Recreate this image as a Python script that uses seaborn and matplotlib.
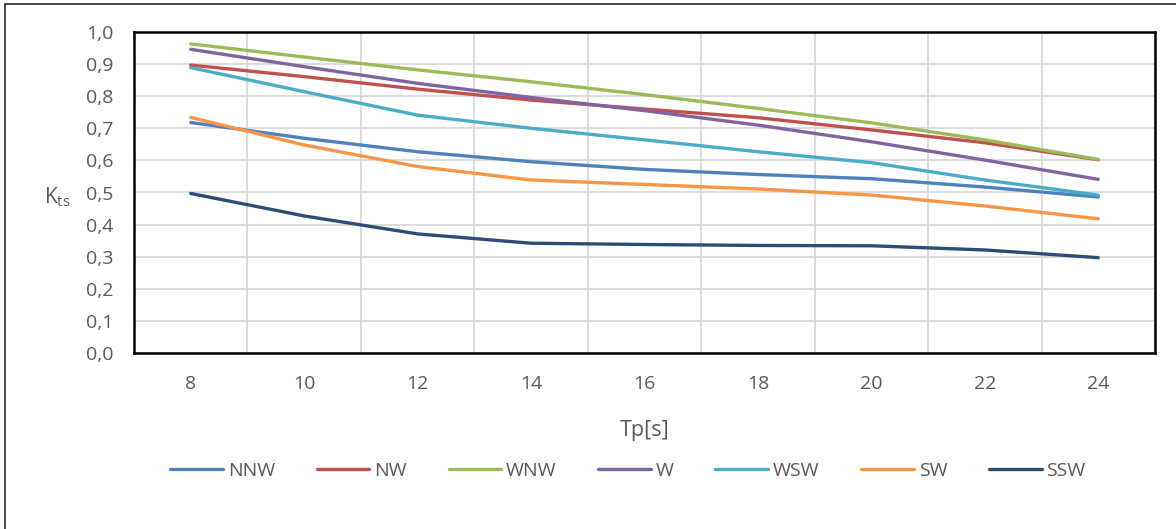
import pandas as pd
import matplotlib
matplotlib.use("Agg")
import matplotlib.pyplot as plt
import seaborn as sns
from matplotlib.patches import Rectangle
from matplotlib.ticker import FuncFormatter, MultipleLocator

# data
tp = [8, 10, 12, 14, 16, 18, 20, 22, 24]
nnw = [0.718, 0.669, 0.627, 0.596, 0.572, 0.556, 0.543, 0.517, 0.486]
nw = [0.897, 0.861, 0.822, 0.788, 0.760, 0.733, 0.695, 0.655, 0.602]
wnw = [0.963, 0.922, 0.882, 0.845, 0.805, 0.762, 0.717, 0.664, 0.603]
w = [0.946, 0.892, 0.840, 0.796, 0.755, 0.710, 0.658, 0.601, 0.541]
wsw = [0.889, 0.814, 0.741, 0.700, 0.664, 0.627, 0.593, 0.539, 0.492]
sw = [0.734, 0.648, 0.581, 0.539, 0.525, 0.511, 0.492, 0.458, 0.418]
ssw = [0.497, 0.427, 0.371, 0.342, 0.338, 0.335, 0.334, 0.321, 0.297]

series = ["NNW", "NW", "WNW", "W", "WSW", "SW", "SSW"]
colors = ["#4f81bd", "#c0504d", "#9bbb59", "#8064a2", "#4bacc6", "#f79646", "#2c4d75"]

df = pd.concat(
    [pd.DataFrame({"Tp": tp, "Kts": v, "dir": name})
     for name, v in zip(series, [nnw, nw, wnw, w, wsw, sw, ssw])],
    ignore_index=True,
)

sns.set_theme(style="white")
plt.rcParams["font.family"] = ["Open Sans", "DejaVu Sans"]
txt = "#595959"

fig = plt.figure(figsize=(11.76, 5.29), dpi=100)
ax = fig.add_axes([134 / 1176, 1 - 353 / 529, (1155 - 134) / 1176, (353 - 32) / 529])

sns.lineplot(data=df, x="Tp", y="Kts", hue="dir", hue_order=series,
             palette=colors, linewidth=2.4, ax=ax, legend=True)

ax.set_xlim(7, 25)
ax.set_ylim(0, 1.0)
ax.set_xticks(tp)
ax.xaxis.set_minor_locator(MultipleLocator(2, offset=1))
ax.yaxis.set_major_locator(MultipleLocator(0.1))
ax.yaxis.set_major_formatter(FuncFormatter(lambda v, p: f"{v:.1f}".replace(".", ",")))
ax.grid(False)
ax.grid(True, which="major", axis="y", color="#d9d9d9", linewidth=1.3)
ax.grid(True, which="minor", axis="x", color="#d9d9d9", linewidth=1.3)
ax.set_axisbelow(True)
ax.tick_params(axis="both", which="both", length=0, labelsize=14, labelcolor=txt)
ax.tick_params(axis="x", pad=16)
ax.tick_params(axis="y", pad=15)
for s in ax.spines.values():
    s.set_visible(True)
    s.set_color("black")
    s.set_linewidth(1.8)

ax.set_xlabel("Tp[s]", fontsize=15.5, color=txt)
ax.xaxis.set_label_coords((645 - 134) / 1021, -0.21)
ax.set_ylabel("K$_{\\mathregular{ts}}$", fontsize=15, color=txt, rotation=0, va="center")
ax.yaxis.set_label_coords(-(134 - 57) / 1021, (353 - 197) / 321)

handles, labels = ax.get_legend_handles_labels()
ax.legend(handles, labels, loc="center", bbox_to_anchor=(628 / 1176, 1 - 471 / 529),
          bbox_transform=fig.transFigure, ncol=7, frameon=False, fontsize=14,
          labelcolor=txt, handlelength=2.7, handletextpad=0.25, columnspacing=2.15)

# outer chart-area border (only top and left edges are inside the picture)
fig.add_artist(Rectangle((5 / 1176, -0.1), 1.2, 1 - 4 / 529 + 0.1,
                         transform=fig.transFigure, fill=False,
                         edgecolor="#262626", linewidth=1.2))

fig.savefig("out.png", dpi=100)
